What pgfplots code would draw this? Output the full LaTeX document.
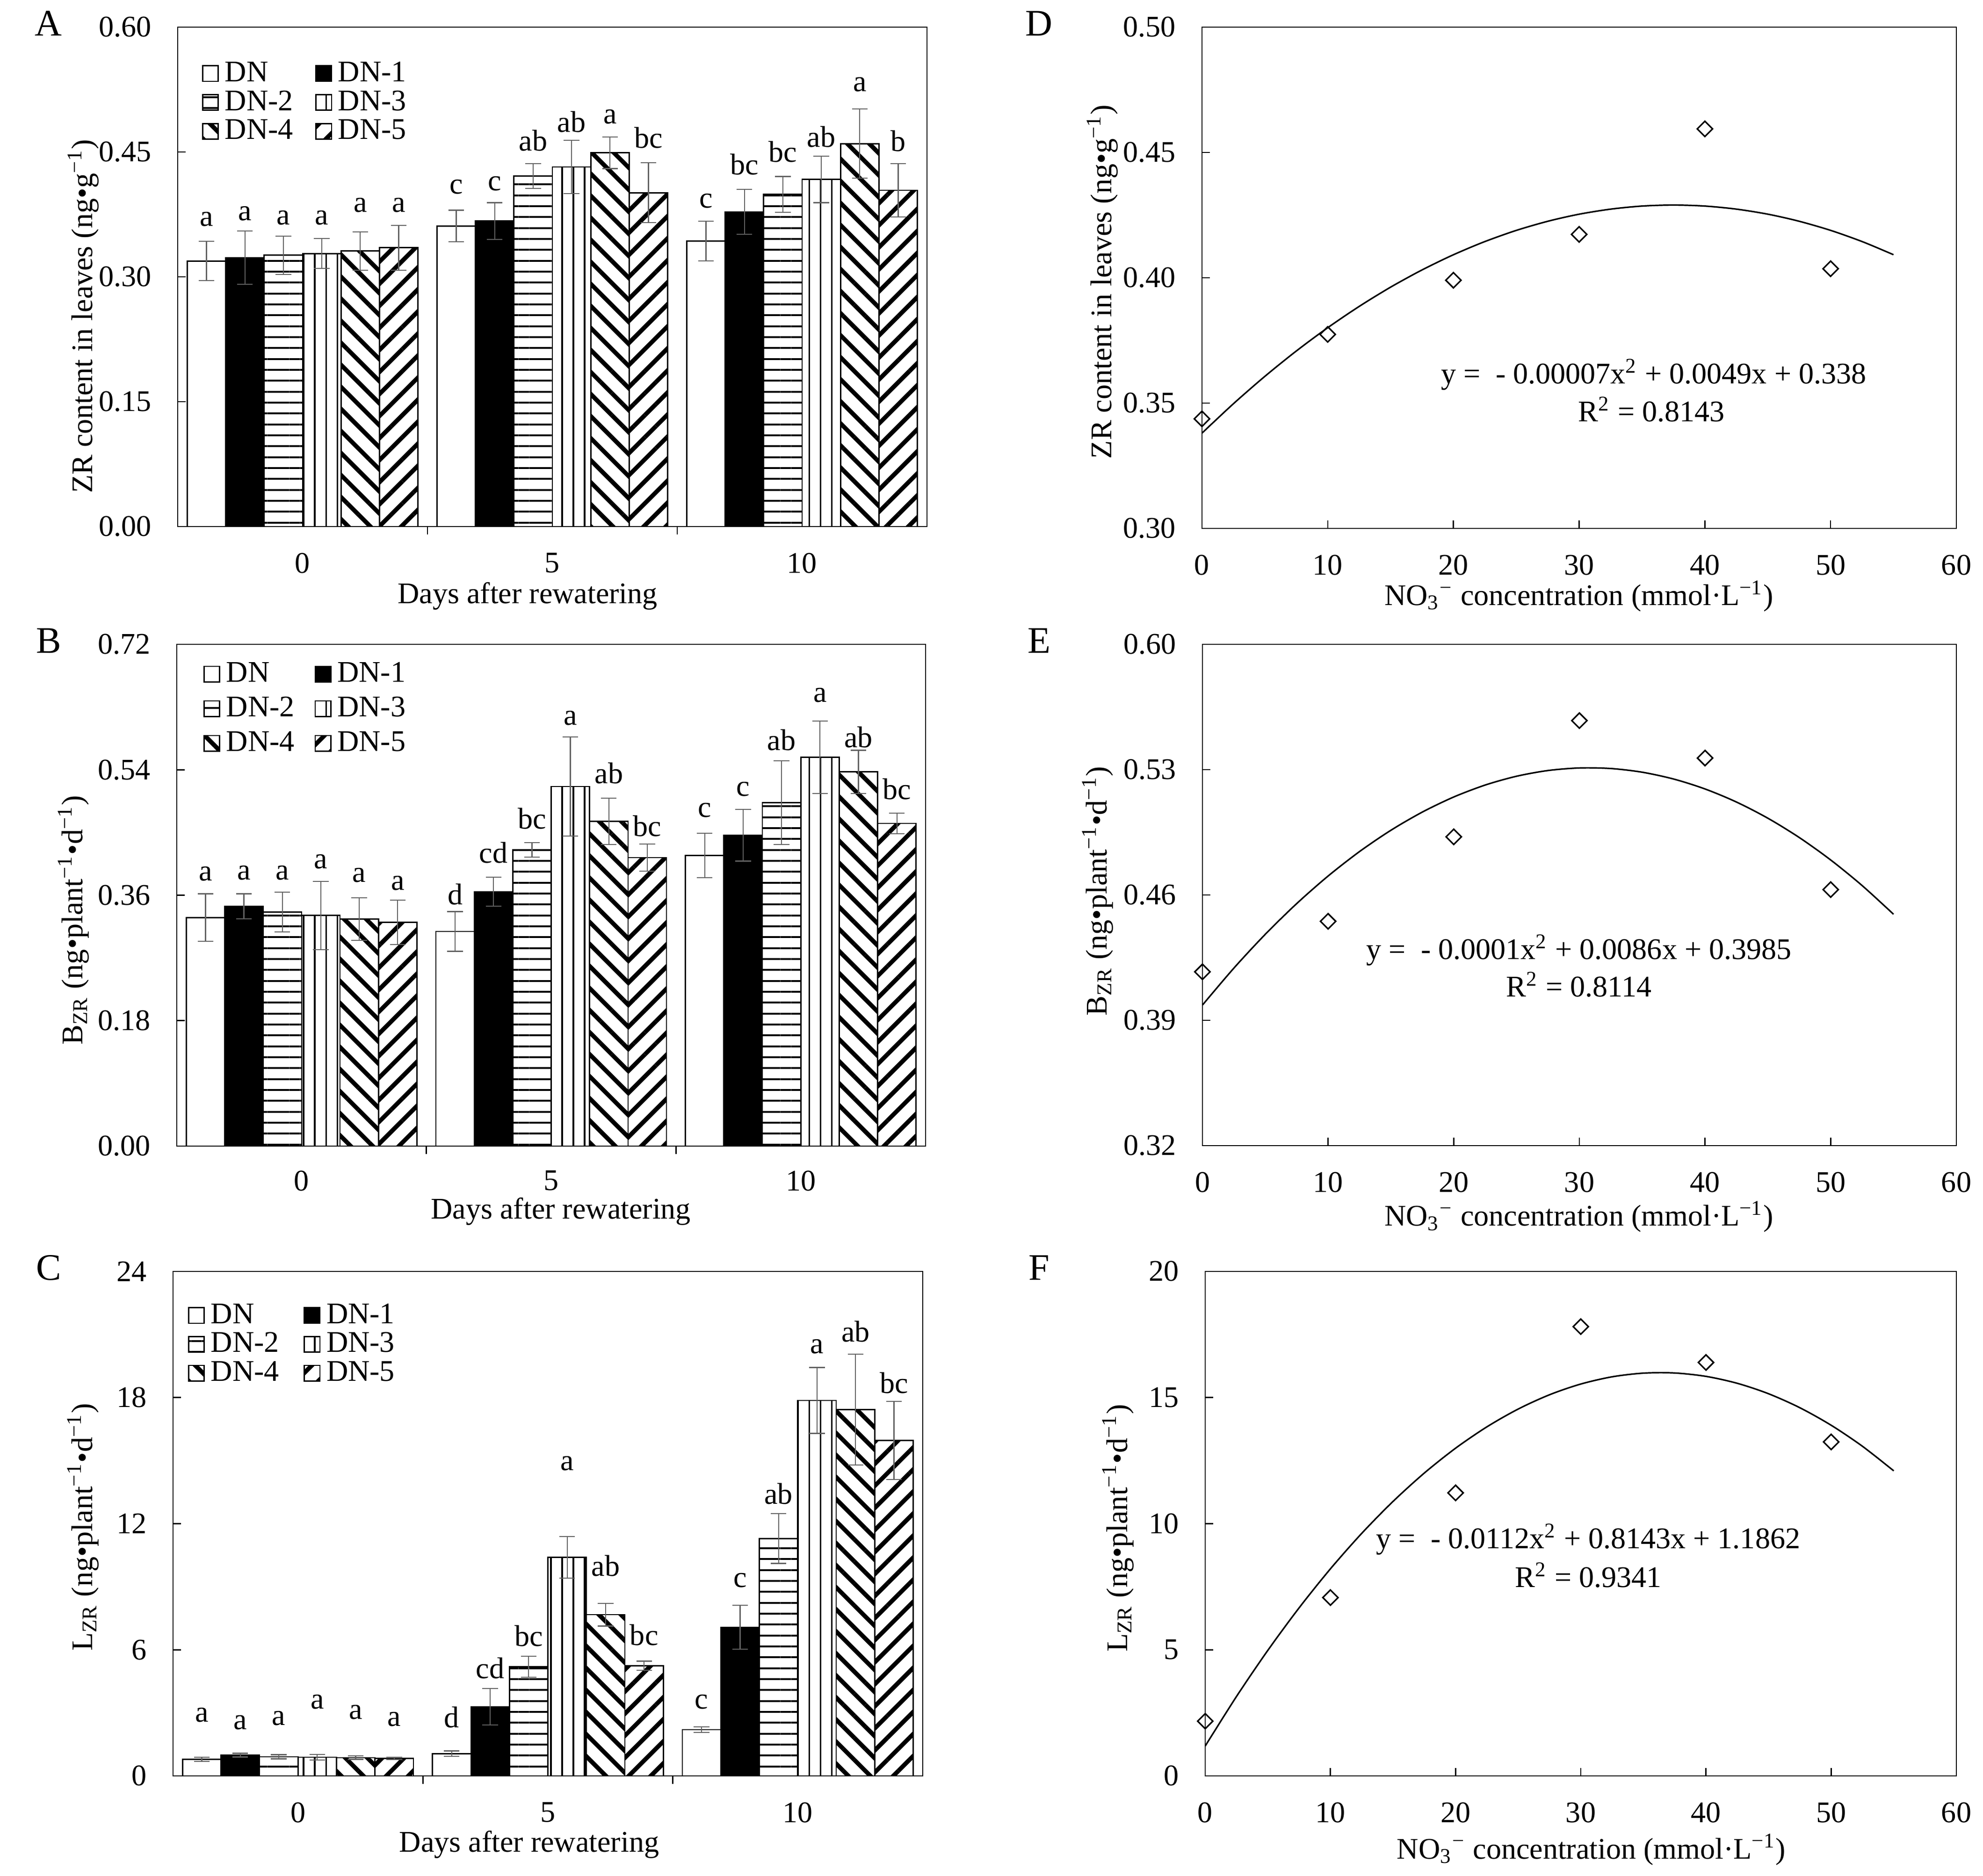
\documentclass[border=0pt]{standalone}
\usepackage{fontspec}
\setmainfont{Liberation Serif}
\usepackage{pgfplots}
\pgfplotsset{compat=1.18}
\usetikzlibrary{patterns.meta}

\newcommand{\tf}{\fontsize{10}{12}\selectfont}
\colorlet{errc}{black!62}

\pgfplotsset{
  panel/.style={
    scale only axis, anchor=north west, clip=false,
    axis line style={line width=0.4pt},
    tick align=inside, major tick length=2.6pt,
    every tick/.style={black, line width=0.4pt},
    xtick pos=bottom, ytick pos=left,
    tick label style={font=\tf},
    xticklabel style={anchor=north, inner sep=0pt, yshift=-8.6pt},
    yticklabel style={anchor=east, inner sep=0pt, xshift=-8.6pt},
    label style={font=\tf, inner sep=0pt},
    /pgf/number format/assume math mode=true,
  },
  barpanel/.style={panel, ybar,
    xmin=-0.5, xmax=2.5, ymin=0,
    xtick={0.5,1.5}, xticklabels={},
    extra x ticks={0,1,2}, extra x tick labels={0,5,10},
    extra x tick style={major tick length=0pt},
    xlabel={Days after rewatering},
    legend columns=2, legend cell align=left,
    legend style={draw=none, fill=none, font=\tf, inner sep=0pt, outer sep=0pt,
       nodes={inner sep=0pt, text height=6.9pt, text depth=0pt},
       /tikz/every odd column/.append style={column sep=2pt},
       /tikz/every even column/.append style={column sep=7.4pt},
       row sep=2.6pt, anchor=north west},
  },
  scatpanel/.style={panel, xmin=0, xmax=60, xtick={0,10,20,30,40,50,60},
    xlabel={NO\textsubscript{3}\textsuperscript{−} concentration (mmol·L\textsuperscript{−1})}},
  fix2/.style={yticklabel style={/pgf/number format/fixed, /pgf/number format/fixed zerofill, /pgf/number format/precision=2}},
  bars/.style={ybar, bar width=0.154, draw=black, line width=0.42pt,
    legend image code/.code={\draw[##1, line width=0.4pt] (0pt,-3.4pt) rectangle (5.2pt,1.8pt);},
    error bars/y dir=both, error bars/y explicit,
    error bars/error bar style={line width=0.35pt, draw=errc, solid},
    error bars/error mark options={rotate=90, mark size=2.6pt, line width=0.35pt, draw=errc}},
  pDN/.style={bars, fill=white, bar shift=-0.385},
  pDNa/.style={bars, fill=black, bar shift=-0.231},
  pDNb/.style={bars, pattern={Lines[angle=0,distance=3.64pt,line width=0.6pt]}, bar shift=-0.077},
  pDNc/.style={bars, pattern={Lines[angle=90,distance=3.75pt,line width=0.5pt]}, bar shift=0.077},
  pDNd/.style={bars, pattern={Lines[angle=-45,distance=5.2pt,line width=1.45pt]}, bar shift=0.231},
  pDNe/.style={bars, pattern={Lines[angle=45,distance=5.2pt,line width=1.45pt]}, bar shift=0.385},
  letters/.style={draw=none, fill=none, mark=none, bar shift=0pt, nodes near coords, point meta=explicit symbolic,
    every node near coord/.append style={anchor=center, inner sep=0pt, font=\tf, text=black}},
  diam/.style={only marks, mark=square, mark size=1.8pt, mark options={rotate=45, solid, line width=0.5pt, fill=white, draw=black}},
  curve/.style={smooth, black, line width=0.5pt, mark=none},
}

\begin{document}
\begin{tikzpicture}
\path[use as bounding box] (0,0) rectangle (661.44pt,-625.72pt);

% ---------------- A ----------------
\begin{axis}[barpanel, fix2, at={(59.28pt,-9.05pt)}, width=249.91pt, height=166.61pt,
  ymax=0.6, ytick={0,0.15,0.3,0.45,0.6},
  ylabel={ZR content in leaves (ng•g\textsuperscript{−1})},
  ylabel style={at={(axis description cs:-0.126,0.421)}, anchor=center},
  xlabel style={at={(axis description cs:0.467,-0.1395)}, anchor=center},
  legend style={at={(axis description cs:0.0325,0.9326)}}]
\addplot[pDN]  coordinates {(0,0.319) +- (0,0.0235) (1,0.361) +- (0,0.019) (2,0.343) +- (0,0.024)};
\addplot[pDNa] coordinates {(0,0.323) +- (0,0.032) (1,0.367) +- (0,0.022) (2,0.378) +- (0,0.027)};
\addplot[pDNb] coordinates {(0,0.326) +- (0,0.023) (1,0.421) +- (0,0.015) (2,0.399) +- (0,0.0215)};
\addplot[pDNc] coordinates {(0,0.328) +- (0,0.018) (1,0.432) +- (0,0.032) (2,0.417) +- (0,0.028)};
\addplot[pDNd] coordinates {(0,0.331) +- (0,0.023) (1,0.449) +- (0,0.019) (2,0.460) +- (0,0.0416)};
\addplot[pDNe] coordinates {(0,0.335) +- (0,0.027) (1,0.401) +- (0,0.036) (2,0.404) +- (0,0.032)};
\legend{DN,DN-1,DN-2,DN-3,DN-4,DN-5}
\addplot[letters] coordinates {
 (-0.385,0.369)[a] (-0.231,0.376)[a] (-0.077,0.371)[a] (0.077,0.371)[a] (0.231,0.386)[a] (0.385,0.386)[a]
 (0.615,0.408)[c] (0.769,0.412)[c] (0.923,0.464)[ab] (1.077,0.486)[ab] (1.231,0.492)[a] (1.385,0.467)[bc]
 (1.615,0.391)[c] (1.769,0.435)[bc] (1.923,0.450)[bc] (2.077,0.468)[ab] (2.231,0.531)[a] (2.385,0.463)[b]};
\end{axis}

% ---------------- B ----------------
\begin{axis}[barpanel, fix2, at={(58.97pt,-214.97pt)}, width=249.76pt, height=167.39pt,
  ymax=0.72, ytick={0,0.18,0.36,0.54,0.72},
  xticklabel style={yshift=0.6pt},
  ylabel={B\textsubscript{ZR} (ng•plant\textsuperscript{−1}•d\textsuperscript{−1})},
  ylabel style={at={(axis description cs:-0.138,0.450)}, anchor=center},
  xlabel style={at={(axis description cs:0.513,-0.13)}, anchor=center},
  legend style={at={(axis description cs:0.0356,0.966)}, row sep=4.5pt,
    /tikz/every even column/.append style={column sep=6.7pt}}]
\addplot[pDN]  coordinates {(0,0.328) +- (0,0.034) (1,0.308) +- (0,0.0285) (2,0.417) +- (0,0.032)};
\addplot[pDNa] coordinates {(0,0.344) +- (0,0.018) (1,0.365) +- (0,0.021) (2,0.446) +- (0,0.037)};
\addplot[pDNb] coordinates {(0,0.336) +- (0,0.0285) (1,0.425) +- (0,0.0105) (2,0.493) +- (0,0.060)};
\addplot[pDNc] coordinates {(0,0.331) +- (0,0.049) (1,0.516) +- (0,0.071) (2,0.558) +- (0,0.052)};
\addplot[pDNd] coordinates {(0,0.326) +- (0,0.0305) (1,0.466) +- (0,0.033) (2,0.537) +- (0,0.031)};
\addplot[pDNe] coordinates {(0,0.321) +- (0,0.032) (1,0.414) +- (0,0.0196) (2,0.463) +- (0,0.015)};
\legend{DN,DN-1,DN-2,DN-3,DN-4,DN-5}
\addplot[letters] coordinates {
 (-0.385,0.391)[a] (-0.231,0.392)[a] (-0.077,0.392)[a] (0.077,0.408)[a] (0.231,0.389)[a] (0.385,0.377)[a]
 (0.615,0.361)[d] (0.769,0.421)[cd] (0.923,0.470)[bc] (1.077,0.614)[a] (1.231,0.535)[ab] (1.385,0.459)[bc]
 (1.615,0.482)[c] (1.769,0.512)[c] (1.923,0.583)[ab] (2.077,0.647)[a] (2.231,0.587)[ab] (2.385,0.512)[bc]};
\end{axis}

% ---------------- C ----------------
\begin{axis}[barpanel, at={(57.72pt,-424.16pt)}, width=250.07pt, height=168.32pt,
  ymax=24, ytick={0,6,12,18,24},
  ylabel={L\textsubscript{ZR} (ng•plant\textsuperscript{−1}•d\textsuperscript{−1})},
  ylabel style={at={(axis description cs:-0.12,0.493)}, anchor=center},
  xlabel style={at={(axis description cs:0.475,-0.136)}, anchor=center},
  legend style={at={(axis description cs:0.02,0.938)},
    /tikz/every even column/.append style={column sep=8.2pt}}]
\addplot[pDN]  coordinates {(0,0.79) +- (0,0.1) (1,1.06) +- (0,0.13) (2,2.2) +- (0,0.13)};
\addplot[pDNa] coordinates {(0,0.99) +- (0,0.09) (1,3.29) +- (0,0.87) (2,7.07) +- (0,1.04)};
\addplot[pDNb] coordinates {(0,0.91) +- (0,0.1) (1,5.2) +- (0,0.5) (2,11.29) +- (0,1.18)};
\addplot[pDNc] coordinates {(0,0.89) +- (0,0.14) (1,10.4) +- (0,0.99) (2,17.86) +- (0,1.57)};
\addplot[pDNd] coordinates {(0,0.87) +- (0,0.08) (1,7.67) +- (0,0.54) (2,17.43) +- (0,2.64)};
\addplot[pDNe] coordinates {(0,0.83) +- (0,0.05) (1,5.24) +- (0,0.22) (2,15.96) +- (0,1.86)};
\legend{DN,DN-1,DN-2,DN-3,DN-4,DN-5}
\addplot[letters] coordinates {
 (-0.385,2.9)[a] (-0.231,2.55)[a] (-0.077,2.74)[a] (0.077,3.52)[a] (0.231,3.03)[a] (0.385,2.69)[a]
 (0.615,2.78)[d] (0.769,5.12)[cd] (0.923,6.65)[bc] (1.077,14.86)[a] (1.231,9.99)[ab] (1.385,6.71)[bc]
 (1.615,3.52)[c] (1.769,9.31)[c] (1.923,13.43)[ab] (2.077,20.43)[a] (2.231,21.14)[ab] (2.385,18.69)[bc]};
\end{axis}

% ---------------- D ----------------
\begin{axis}[scatpanel, fix2, at={(400.92pt,-9.05pt)}, width=251.63pt, height=167.23pt,
  ymin=0.3, ymax=0.5, ytick={0.3,0.35,0.4,0.45,0.5},
  ylabel={ZR content in leaves (ng•g\textsuperscript{−1})},
  ylabel style={at={(axis description cs:-0.132,0.492)}, anchor=center},
  xlabel style={at={(axis description cs:0.4997,-0.135)}, anchor=center}]
\addplot[curve] coordinates {(0,0.3380) (2.5,0.34973) (5,0.36065) (7.5,0.37076) (10,0.38006) (12.5,0.38855) (15,0.39624) (17.5,0.40311) (20,0.40918) (22.5,0.41444) (25,0.41889) (27.5,0.42253) (30,0.42536) (32.5,0.42738) (35,0.42860) (37.5,0.42900) (40,0.42860) (42.5,0.42739) (45,0.42537) (47.5,0.42254) (50,0.41890) (52.5,0.41445) (55,0.40920)};
\addplot[diam] coordinates {(0,0.3437) (10,0.3774) (20,0.399) (30,0.4173) (40,0.4594) (50,0.4036)};
\node[font=\tf] at (axis description cs:0.599,0.307) {y =\enspace - 0.00007x\textsuperscript{2} + 0.0049x + 0.338};
\node[font=\tf] at (axis description cs:0.596,0.237) {R\textsuperscript{2} = 0.8143};
\end{axis}

% ---------------- E ----------------
\begin{axis}[scatpanel, fix2, at={(401.08pt,-214.97pt)}, width=251.47pt, height=167.23pt,
  ymin=0.32, ymax=0.60, ytick={0.32,0.39,0.46,0.53,0.60},
  ylabel={B\textsubscript{ZR} (ng•plant\textsuperscript{−1}•d\textsuperscript{−1})},
  ylabel style={at={(axis description cs:-0.139,0.508)}, anchor=center},
  xlabel style={at={(axis description cs:0.4994,-0.142)}, anchor=center}]
\addplot[curve] coordinates {(0,0.3985) (2.5,0.41914) (5,0.43804) (7.5,0.45519) (10,0.47059) (12.5,0.48425) (15,0.49616) (17.5,0.50632) (20,0.51474) (22.5,0.52141) (25,0.52634) (27.5,0.52952) (30,0.53095) (32.5,0.53064) (35,0.52858) (37.5,0.52477) (40,0.51922) (42.5,0.51192) (45,0.50288) (47.5,0.49209) (50,0.47955) (52.5,0.46527) (55,0.44924)};
\addplot[diam] coordinates {(0,0.4171) (10,0.4453) (20,0.4925) (30,0.5574) (40,0.5365) (50,0.463)};
\node[font=\tf] at (axis description cs:0.4995,0.39) {y =\enspace - 0.0001x\textsuperscript{2} + 0.0086x + 0.3985};
\node[font=\tf] at (axis description cs:0.4995,0.321) {R\textsuperscript{2} = 0.8114};
\end{axis}

% ---------------- F ----------------
\begin{axis}[scatpanel, at={(402.01pt,-424.16pt)}, width=250.54pt, height=168.32pt,
  ymin=0, ymax=20, ytick={0,5,10,15,20},
  ylabel={L\textsubscript{ZR} (ng•plant\textsuperscript{−1}•d\textsuperscript{−1})},
  ylabel style={at={(axis description cs:-0.116,0.491)}, anchor=center},
  xlabel style={at={(axis description cs:0.514,-0.146)}, anchor=center}]
\addplot[curve] coordinates {(0,1.1862) (2.5,3.15195) (5,4.9777) (7.5,6.66345) (10,8.2092) (12.5,9.61495) (15,10.8807) (17.5,12.00645) (20,12.9922) (22.5,13.83795) (25,14.5437) (27.5,15.10945) (30,15.5352) (32.5,15.82095) (35,15.9667) (37.5,15.97245) (40,15.8382) (42.5,15.56395) (45,15.1497) (47.5,14.59545) (50,13.9012) (52.5,13.06695) (55,12.0927)};
\addplot[diam] coordinates {(0,2.17) (10,7.07) (20,11.22) (30,17.81) (40,16.39) (50,13.24)};
\node[font=\tf] at (axis description cs:0.51,0.469) {y =\enspace - 0.0112x\textsuperscript{2} + 0.8143x + 1.1862};
\node[font=\tf] at (axis description cs:0.51,0.398) {R\textsuperscript{2} = 0.9341};
\end{axis}

% panel letters
\begin{scope}[every node/.style={anchor=base, font=\fontsize{12.5}{14}\selectfont, inner sep=0pt}]
\node at (16.2pt,-11.9pt) {A};
\node at (16.2pt,-217.8pt) {B};
\node at (16.2pt,-427.0pt) {C};
\node at (346.6pt,-11.9pt) {D};
\node at (346.6pt,-217.8pt) {E};
\node at (346.6pt,-427.0pt) {F};
\end{scope}
\end{tikzpicture}
\end{document}
